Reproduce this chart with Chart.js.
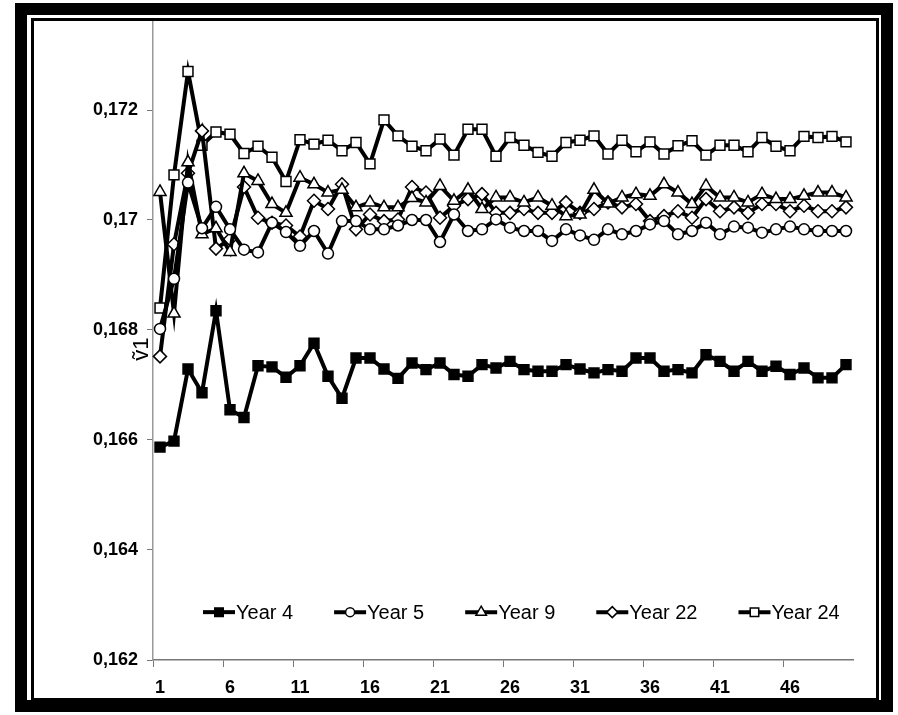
<!DOCTYPE html>
<html>
<head>
<meta charset="utf-8">
<script src="https://cdn.jsdelivr.net/npm/chart.js@4.4.1/dist/chart.umd.min.js"></script>
<style>
  html, body { margin: 0; padding: 0; background: #fff; }
  #wrap { position: relative; width: 898px; height: 715px; overflow: hidden; }
  #outer { position: absolute; left: 15px; top: 3px; width: 878px; height: 709px; box-sizing: border-box; border: 12px solid #000; }
  #inner { position: absolute; left: 31px; top: 18px; width: 848px; height: 683px; box-sizing: border-box; border: 3px solid #000; }
  #myChart { position: absolute; left: 0; top: 0; }
</style>
</head>
<body>
<div id="wrap">
  <div id="outer"></div>
  <div id="inner"></div>
  <canvas id="myChart" width="898" height="715"></canvas>
</div>
<script>
var labels = ['1','2','3','4','5','6','7','8','9','10','11','12','13','14','15','16','17','18','19','20',
  '21','22','23','24','25','26','27','28','29','30','31','32','33','34','35','36','37','38','39','40',
  '41','42','43','44','45','46','47','48','49','50']

var year4 = [0.16587,0.16598,0.16729,0.16686,0.16835,0.16655,0.16641,0.16735,0.16733,0.16714,
  0.16735,0.16776,0.16716,0.16676,0.16749,0.16749,0.16729,0.16712,0.16740,0.16728,
  0.16740,0.16719,0.16716,0.16737,0.16731,0.16743,0.16728,0.16725,0.16725,0.16737,
  0.16729,0.16722,0.16728,0.16725,0.16749,0.16749,0.16725,0.16728,0.16722,0.16755,
  0.16743,0.16725,0.16743,0.16725,0.16734,0.16719,0.16731,0.16713,0.16713,0.16737]

var year5 = [0.16802,0.16893,0.17068,0.16985,0.17024,0.16983,0.16946,0.16941,0.16995,0.16978,
  0.16953,0.16980,0.16939,0.16998,0.16998,0.16983,0.16983,0.16990,0.17000,0.17000,
  0.16960,0.17010,0.16980,0.16983,0.17001,0.16986,0.16980,0.16980,0.16962,0.16983,
  0.16972,0.16964,0.16983,0.16974,0.16980,0.16992,0.16998,0.16974,0.16980,0.16995,
  0.16974,0.16988,0.16986,0.16977,0.16983,0.16988,0.16983,0.16980,0.16980,0.16980]

var year9 = [0.17051,0.16830,0.17105,0.16974,0.16985,0.16942,0.17085,0.17071,0.17029,0.17013,
  0.17077,0.17065,0.17050,0.17055,0.17023,0.17032,0.17023,0.17023,0.17040,0.17032,
  0.17062,0.17035,0.17055,0.17020,0.17041,0.17041,0.17032,0.17041,0.17026,0.17007,
  0.17010,0.17055,0.17030,0.17041,0.17047,0.17044,0.17065,0.17050,0.17029,0.17062,
  0.17041,0.17041,0.17032,0.17047,0.17038,0.17038,0.17044,0.17050,0.17050,0.17041]

var year22 = [0.16752,0.16956,0.17085,0.17162,0.16948,0.16965,0.17060,0.17004,0.16995,0.16990,
  0.16970,0.17035,0.17020,0.17065,0.16983,0.17010,0.16998,0.17001,0.17060,0.17050,
  0.17004,0.17026,0.17038,0.17047,0.17013,0.17013,0.17020,0.17013,0.17013,0.17032,
  0.17013,0.17020,0.17032,0.17023,0.17029,0.16998,0.17007,0.17016,0.17004,0.17038,
  0.17016,0.17023,0.17013,0.17029,0.17029,0.17016,0.17026,0.17016,0.17016,0.17023]

var year24 = [0.16840,0.17082,0.17270,0.17136,0.17160,0.17156,0.17121,0.17134,0.17114,0.17070,
  0.17146,0.17138,0.17145,0.17126,0.17141,0.17102,0.17182,0.17153,0.17134,0.17126,
  0.17147,0.17118,0.17165,0.17165,0.17116,0.17150,0.17136,0.17123,0.17116,0.17141,
  0.17145,0.17153,0.17120,0.17145,0.17124,0.17142,0.17120,0.17135,0.17144,0.17118,
  0.17136,0.17136,0.17124,0.17150,0.17134,0.17126,0.17152,0.17150,0.17152,0.17142]

var seriesNames = ['Year 4', 'Year 5', 'Year 9', 'Year 22', 'Year 24']
var yTicks = [0.162, 0.164, 0.166, 0.168, 0.17, 0.172]

var FONT = "'Liberation Sans', Arial, sans-serif"

function makeSet(name, values, style, fill, radius) {
  return {
    label: name,
    data: values,
    borderColor: '#000',
    borderWidth: 4,
    backgroundColor: fill,
    pointStyle: style,
    pointRadius: radius,
    pointBackgroundColor: fill,
    pointBorderColor: '#000',
    pointBorderWidth: 1.5,
    tension: 0
  }
}

function isMajor(v) {
  return yTicks.some(function (t) { return Math.abs(t - v) < 1e-7 })
}

// legend drawn inside the plot, near the bottom
const legendInside = {
  id: 'legendInside',
  afterDraw(chart) {
    const ctx = chart.ctx
    const y = chart.scales.y.getPixelForValue(0.16287)
    let x = chart.chartArea.left + 50
    ctx.save()
    ctx.font = '20px ' + FONT
    ctx.textBaseline = 'middle'
    chart.data.datasets.forEach(function (ds) {
      ctx.strokeStyle = '#000'
      ctx.lineWidth = 4
      ctx.beginPath()
      ctx.moveTo(x, y)
      ctx.lineTo(x + 32, y)
      ctx.stroke()
      ctx.fillStyle = ds.pointBackgroundColor
      ctx.lineWidth = 1.5
      Chart.helpers.drawPoint(ctx, { pointStyle: ds.pointStyle, radius: ds.pointRadius - 1, rotation: 0, borderWidth: 1.5 }, x + 16, y)
      ctx.fillStyle = '#000'
      ctx.fillText(ds.label, x + 33, y + 1)
      x += 33 + ctx.measureText(ds.label).width + 41
    })
    ctx.restore()
  }
}

// rotated axis title next to the y axis
const yTitle = {
  id: 'yTitle',
  afterDraw(chart) {
    const ctx = chart.ctx
    const yy = chart.scales.y.getPixelForValue(0.16765)
    ctx.save()
    ctx.translate(chart.chartArea.left - 11, yy)
    ctx.rotate(-Math.PI / 2)
    ctx.font = '22px ' + FONT
    ctx.fillStyle = '#000'
    ctx.textAlign = 'center'
    ctx.textBaseline = 'middle'
    ctx.fillText('\u1E7D1', 0, 0)
    ctx.restore()
  }
}

const data = {
  labels: labels,
  datasets: [
    makeSet(seriesNames[0], year4, 'rect', '#000', 7),
    makeSet(seriesNames[1], year5, 'circle', '#fff', 5.5),
    makeSet(seriesNames[2], year9, 'triangle', '#fff', 7),
    makeSet(seriesNames[3], year22, 'rectRot', '#fff', 6.5),
    makeSet(seriesNames[4], year24, 'rect', '#fff', 7)
  ]
}

const config = {
  type: 'line',
  data: data,
  options: {
    responsive: false,
    animation: false,
    layout: { padding: { left: 0, right: 45, top: 22, bottom: 0 } },
    plugins: { legend: { display: false }, tooltip: { enabled: false } },
    scales: {
      x: {
        offset: true,
        grid: {
          offset: true,
          drawOnChartArea: false,
          tickLength: 7,
          color: function (c) { return c.index % 5 === 0 ? '#777' : 'rgba(0,0,0,0)' }
        },
        border: { display: true, color: '#777', width: 1.5 },
        ticks: {
          autoSkip: false,
          maxRotation: 0,
          padding: 10,
          color: '#000',
          font: { family: FONT, size: 18, weight: 'bold' },
          callback: function (v, i) { return i % 5 === 0 ? labels[i] : '' }
        },
        afterFit: function (s) { s.height = 55 }
      },
      y: {
        min: 0.162,
        max: 0.1736,
        grid: {
          drawOnChartArea: false,
          tickLength: 6,
          color: function (c) { return c.tick && isMajor(c.tick.value) ? '#777' : 'rgba(0,0,0,0)' }
        },
        border: { display: true, color: '#999', width: 1.5 },
        ticks: {
          stepSize: 0.002,
          padding: 9,
          color: '#000',
          font: { family: FONT, size: 18, weight: 'bold' },
          callback: function (v) {
            if (!isMajor(v)) return ''
            return parseFloat(v.toFixed(3)).toString().replace('.', ',')
          }
        },
        afterFit: function (s) { s.width = 153 }
      }
    }
  },
  plugins: [legendInside, yTitle]
}

const myChart = new Chart(document.getElementById('myChart'), config)
</script>
</body>
</html>
